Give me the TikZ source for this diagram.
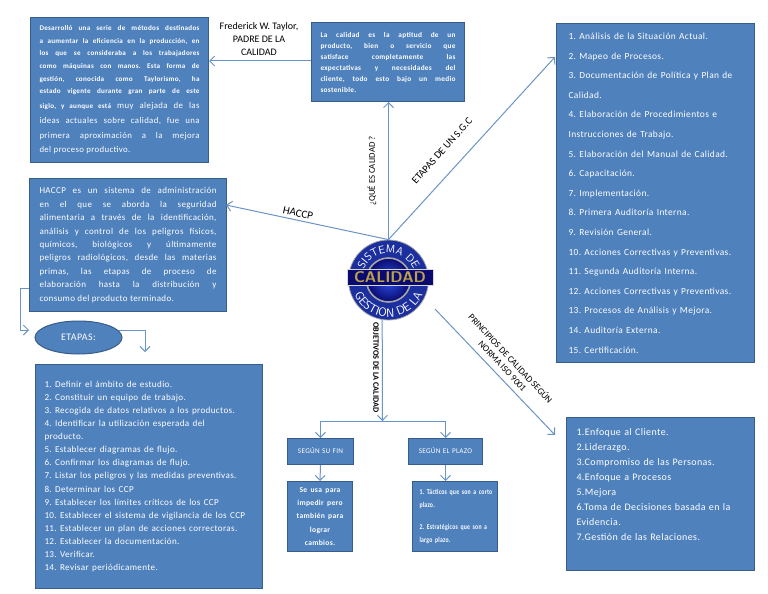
\documentclass[tikz,border=0pt]{standalone}
\usepackage{fontspec}
\setmainfont{Carlito}
\usetikzlibrary{arrows.meta,decorations.text,shapes.geometric}
\definecolor{boxfill}{HTML}{4F81BD}
\definecolor{boxline}{HTML}{385D8A}
\definecolor{conn}{HTML}{6A93C6}
\definecolor{navy}{HTML}{0A0A70}
\definecolor{ringblue}{HTML}{1B2F9E}
\definecolor{brightblue}{HTML}{2E52E8}
\definecolor{gold}{HTML}{B9A24A}
\newfontfamily\spaced[LetterSpace=4]{Carlito}
\tikzset{
  box/.style={draw=boxline,line width=1pt,fill=boxfill,text=white,inner xsep=0pt,inner ysep=0pt,align=justify,anchor=north west},
  flow/.style={draw=conn,line width=1pt,-{Straight Barb[length=5pt,width=10pt]}},
  lab/.style={text=black,align=center},
}
\newcommand{\sm}{\spaced\bfseries\fontsize{7.1}{12.6}\selectfont}
\newcommand{\tightline}[1]{\scalebox{.78}[1]{#1}}
\frenchspacing
\begin{document}
\begin{tikzpicture}[x=1pt,y=-1pt]
\useasboundingbox (0,0) rectangle (768,594);
% boxes
\node[box,minimum width=178pt,minimum height=145pt,text width=160pt] (taylor) at (30,17) {%
{\sm\parfillskip=0pt Desarrolló una serie de métodos destinados\linebreak a aumentar la eficiencia en la producción, en\linebreak los que se consideraba a los trabajadores\linebreak como máquinas con manos. Esta forma de\linebreak gestión, conocida como Taylorismo, ha\linebreak estado vigente durante gran parte de este\par}%
{\spaced\fontsize{8.8}{14.8}\selectfont{\sm siglo, y aunque está} muy alejada de las\linebreak ideas actuales sobre calidad, fue una\linebreak primera aproximación a la mejora\linebreak del proceso productivo.\par}};
\node[box,minimum width=153pt,minimum height=79pt,text width=135pt] (calidad) at (311,22) {%
{\spaced\bfseries\fontsize{7.3}{11}\selectfont La calidad es la aptitud de un\linebreak producto, bien o servicio que\linebreak satisface completamente las\linebreak expectativas y necesidades del\linebreak cliente, todo esto bajo un medio\linebreak sostenible.\par}};
\node[box,minimum width=198pt,minimum height=339pt,text width=174pt,align=left] (pasos) at (556,23) {%
{\spaced\fontsize{9.4}{19.6}\selectfont 1. Análisis de la Situación Actual.\\2. Mapeo de Procesos.\\3. Documentación de Política y Plan de\\Calidad.\\4. Elaboración de Procedimientos e\\Instrucciones de Trabajo.\\5. Elaboración del Manual de Calidad.\\6. Capacitación.\\7. Implementación.\\8. Primera Auditoría Interna.\\9. Revisión General.\\10. Acciones Correctivas y Preventivas.\\11. Segunda Auditoría Interna.\\12. Acciones Correctivas y Preventivas.\\13. Procesos de Análisis y Mejora.\\14. Auditoría Externa.\\15. Certificación.\par}};
\node[box,minimum width=197pt,minimum height=133pt,text width=177pt] (haccp) at (29,178) {%
{\spaced\fontsize{9}{13.4}\selectfont HACCP es un sistema de administración\linebreak en el que se aborda la seguridad\linebreak alimentaria a través de la identificación,\linebreak análisis y control de los peligros físicos,\linebreak químicos, biológicos y últimamente\linebreak peligros radiológicos, desde las materias\linebreak primas, las etapas de proceso de\linebreak elaboración hasta la distribución y\linebreak consumo del producto terminado.\par}};
\node[draw=boxline,line width=1pt,fill=boxfill,text=white,ellipse,minimum width=87pt,minimum height=33pt,inner sep=0pt,font=\spaced\fontsize{10}{11}\selectfont] (etapas) at (78.5,337.5) {ETAPAS:};
\node[box,minimum width=227pt,minimum height=224pt,text width=209pt,align=left] (lista) at (35,364) {%
{\spaced\fontsize{9.1}{13.1}\selectfont 1. Definir el ámbito de estudio.\\2. Constituir un equipo de trabajo.\\3. Recogida de datos relativos a los productos.\\4. Identificar la utilización esperada del\\producto.\\5. Establecer diagramas de flujo.\\6. Confirmar los diagramas de flujo.\\7. Listar los peligros y las medidas preventivas.\\8. Determinar los CCP\\9. Establecer los límites críticos de los CCP\\10. Establecer el sistema de vigilancia de los CCP\\11. Establecer un plan de acciones correctoras.\\12. Establecer la documentación.\\13. Verificar.\\14. Revisar periódicamente.\par}};
\node[box,minimum width=66pt,minimum height=26pt,text width=60pt,align=center,font=\spaced\fontsize{7.2}{8}\selectfont] (fin) at (287,438) {\raisebox{3pt}{SEGÚN SU FIN}};
\node[box,minimum width=74pt,minimum height=26pt,text width=68pt,align=center,font=\spaced\fontsize{7.2}{8}\selectfont] (plazo) at (408,438) {\raisebox{3pt}{SEGÚN EL PLAZO}};
\node[box,minimum width=65pt,minimum height=70pt,text width=60pt,align=center] (usa) at (287,481) {%
{\spaced\bfseries\fontsize{7.6}{13.2}\selectfont Se usa para\\impedir pero\\también para\\lograr\\cambios.\par}};
\node[box,minimum width=85pt,minimum height=70pt,text width=71pt,align=left] (tact) at (412,481) {%
{\spaced\bfseries\fontsize{7.4}{13.2}\selectfont \tightline{1. Tácticos que son a corto}\\\tightline{plazo.}\\[8pt]\tightline{2. Estratégicos que son a}\\\tightline{largo plazo.}\par}};
\node[box,minimum width=188pt,minimum height=153pt,text width=168pt,align=left] (princ) at (566,417) {%
{\spaced\fontsize{10}{15}\selectfont 1.Enfoque al Cliente.\\2.Liderazgo.\\3.Compromiso de las Personas.\\4.Enfoque a Procesos\\5.Mejora\\6.Toma de Decisiones basada en la\\Evidencia.\\7.Gestión de las Relaciones.\par\vspace{18pt}}};
% logo
\node[circle,minimum size=80pt,inner sep=0pt,draw=black!35,line width=.8pt,fill=ringblue] (logo) at (388.5,280) {};
\node[circle,minimum size=44pt,inner sep=0pt,draw=gray!70,line width=1.6pt,inner color=brightblue,outer color=navy] (logoin) at (388.5,280) {};
\path[decorate,decoration={text along path,text align=center,text={|\sffamily\fontsize{11}{12}\selectfont\color{white}|SISTEMA DE}}] (logo.center) ++(185:27pt) arc[start angle=185,end angle=-5,radius=27pt];
\path[decorate,decoration={text along path,text align=center,text={|\sffamily\fontsize{12}{12}\selectfont\color{white}|GESTION DE LA}}] (logo.center) ++(180:37pt) arc[start angle=180,end angle=360,radius=37pt];
\node[draw=white!85!black,line width=.7pt,fill=navy,minimum width=86pt,minimum height=16.5pt,inner sep=0pt,text=gold,font=\sffamily\bfseries\fontsize{15.5}{18}\selectfont] (band) at (390,277.5) {CALIDAD};
% connectors
\coordinate (stepsin) at (555,57);
\coordinate (haccpin) at (226,205);
\coordinate (split) at (382.5,421);
\coordinate (princfrom) at (435,309);
\coordinate (princin) at (555,435);
\draw[flow] (logo.north) -- (logo.north |- calidad.south);
\draw[flow] (logo.north) -- (stepsin);
\draw[flow] (logo.north) -- (haccpin);
\draw[flow] (calidad.west |- 0,61) -- (taylor.east |- 0,61);
\draw[flow] (logo.261) -- (split);
\draw[flow] (split) -| (fin.north);
\draw[flow] (split) -| (plazo.north);
\draw[flow] (princfrom) -- (princin);
\draw[flow] (fin.south) -- (usa.north);
\draw[flow] (plazo.south) -- (plazo.south |- tact.north);
\coordinate (hl) at (29,288);
\coordinate (hk1) at (20,288);
\coordinate (hk2) at (20,330);
\coordinate (el) at (29,330);
\draw[flow] (hl) -- (hk1) -- (hk2) -- (el);
\coordinate (er) at (119,330);
\coordinate (ek) at (145,330);
\coordinate (ed) at (145,352);
\draw[flow] (er) -- (ek) -- (ed);
% labels
\node[lab,font=\fontsize{10}{13}\selectfont] (l1) at (259,39) {Frederick W. Taylor,\\PADRE DE LA\\CALIDAD};
\node[lab,rotate=90,font=\fontsize{8.8}{10}\selectfont] (l2) at (372,171) {¿QUÉ ES CALIDAD ?};
\node[lab,rotate=48,font=\fontsize{10.4}{12}\selectfont] (l3) at (442,151) {ETAPAS DE UN S.G.C};
\node[lab,rotate=-12,font=\fontsize{11}{12}\selectfont] (l4) at (298,213) {HACCP};
\node[lab,rotate=-90,font=\bfseries\fontsize{8.2}{9}\selectfont] (l5) at (376,367.5) {OBJETIVOS DE LA CALIDAD};
\node[lab,rotate=-47,font=\fontsize{9.2}{11}\selectfont] (l6) at (507,362) {PRINCIPIOS DE CALIDAD SEGÚN\\NORMA ISO 9001};
\end{tikzpicture}
\end{document}
